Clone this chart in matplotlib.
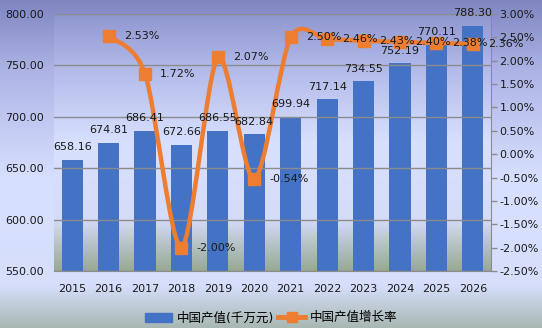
import numpy as np
import matplotlib
matplotlib.use("Agg")
import matplotlib.pyplot as plt
from matplotlib.colors import LinearSegmentedColormap
from matplotlib.path import Path
from matplotlib.patches import PathPatch
from matplotlib.ticker import FuncFormatter

plt.rcParams["font.family"] = ["DejaVu Sans", "Noto Sans CJK SC"]

years = ["2015", "2016", "2017", "2018", "2019", "2020",
         "2021", "2022", "2023", "2024", "2025", "2026"]
output = [658.16, 674.81, 686.41, 672.66, 686.55, 682.84,
          699.94, 717.14, 734.55, 752.19, 770.11, 788.30]
# growth rate (%) starts from 2016
growth = [2.53, 1.72, -2.00, 2.07, -0.54, 2.50, 2.46, 2.43, 2.40, 2.38, 2.36]

BAR = "#4472C4"
LINE = "#ED7D31"
GRID = "#8C8C8C"
TXT = "#1a1a1a"

fig = plt.figure(figsize=(5.42, 3.28), dpi=100)

# figure background gradient
bg = fig.add_axes([0, 0, 1, 1], zorder=-10)
bg_cmap = LinearSegmentedColormap.from_list(
    "bg", [(0.0, "#A9B8B2"), (0.13, "#D6DEFC"), (0.45, "#D8E0FF"),
           (0.78, "#AEB5E6"), (1.0, "#7F86C1")])
bg.imshow(np.linspace(0, 1, 256).reshape(-1, 1), aspect="auto", cmap=bg_cmap,
          origin="lower", extent=[0, 1, 0, 1])
bg.axis("off")

ax = fig.add_axes([54 / 542, 1 - 271 / 328, 437 / 542, 257 / 328])
ax.set_facecolor("none")
plot_cmap = LinearSegmentedColormap.from_list(
    "plot", [(0.0, "#97A894"), (0.2, "#D4DCF8"), (0.5, "#D8E0FF"),
             (0.8, "#B0B8E8"), (1.0, "#8F97D0")])
ax.imshow(np.linspace(0, 1, 256).reshape(-1, 1), aspect="auto", cmap=plot_cmap,
          origin="lower", extent=[0, 1, 0, 1], transform=ax.transAxes, zorder=0)

x = np.arange(len(years))
ax.bar(x, [v - 550 for v in output], bottom=550, width=0.58, color=BAR, zorder=2,
       label="中国产值(千万元)")
ax.set_xlim(-0.5, len(years) - 0.5)
ax.set_ylim(550, 800)
ax.set_yticks(np.arange(550, 801, 50))
ax.yaxis.set_major_formatter(FuncFormatter(lambda v, p: f"{v:.2f}"))
ax.grid(axis="y", color=GRID, linewidth=1, zorder=1)
ax.set_axisbelow(False)
ax.set_xticks(x)
ax.set_xticklabels(years)
ax.tick_params(axis="both", length=0, labelsize=8, colors=TXT)
ax.tick_params(axis="y", pad=7)
ax.tick_params(axis="x", pad=9)
for s in ["top", "right", "left"]:
    ax.spines[s].set_visible(False)
ax.spines["bottom"].set_color(GRID)

ax2 = ax.twinx()
ax2.set_ylim(-2.5, 3.0)
ax2.set_yticks(np.arange(-2.5, 3.01, 0.5))
ax2.yaxis.set_major_formatter(FuncFormatter(lambda v, p: f"{v:.2f}%".replace("\u2212", "-")))
ax2.tick_params(axis="y", length=4, width=1, color=GRID, labelsize=8, colors=TXT, pad=2)
for s in ["top", "left", "bottom"]:
    ax2.spines[s].set_visible(False)
ax2.spines["right"].set_color(GRID)

# smoothed growth line (cubic Bezier segments through the points)
gx = x[1:].astype(float)
gy = np.array(growth)
pts = np.column_stack([gx, gy])
verts = [tuple(pts[0])]
codes = [Path.MOVETO]
n = len(pts)
k = 1 / 7
for i in range(n - 1):
    p0 = pts[max(i - 1, 0)]
    p1 = pts[i]
    p2 = pts[i + 1]
    p3 = pts[min(i + 2, n - 1)]
    c1 = p1 + (p2 - p0) * k
    c2 = p2 - (p3 - p1) * k
    verts += [tuple(c1), tuple(c2), tuple(p2)]
    codes += [Path.CURVE4] * 3
ax2.add_patch(PathPatch(Path(verts, codes), facecolor="none", edgecolor=LINE,
                        linewidth=3.2, capstyle="round", joinstyle="round", zorder=3))
ax2.plot(gx, gy, linestyle="none", marker="s", markersize=8.5, color=LINE, zorder=4)

# value labels drawn on the top axes so they sit above the line
for xi, v in zip(x, output):
    ax2.annotate(f"{v:.2f}", (xi, v), xycoords=ax.transData, xytext=(0, 5.5),
                 textcoords="offset points", ha="center", va="bottom",
                 fontsize=8, color=TXT, zorder=6, annotation_clip=False)

for xi, v in zip(gx, gy):
    ax2.annotate(f"{v:.2f}%", (xi, v), xytext=(11, 0), textcoords="offset points",
                 ha="left", va="center", fontsize=8, color=TXT, zorder=6,
                 annotation_clip=False)

# legend
h1 = plt.Rectangle((0, 0), 1, 1, color=BAR)
h2 = plt.Line2D([], [], color=LINE, linewidth=3.5, marker="s", markersize=7)
fig.legend([h1, h2], ["中国产值(千万元)", "中国产值增长率"], loc="center",
           bbox_to_anchor=(0.5, 1 - 318 / 328), ncol=2, frameon=False,
           fontsize=9, handlelength=2.2, columnspacing=0.3, handletextpad=0.35)

fig.savefig("out.png", dpi=100)
